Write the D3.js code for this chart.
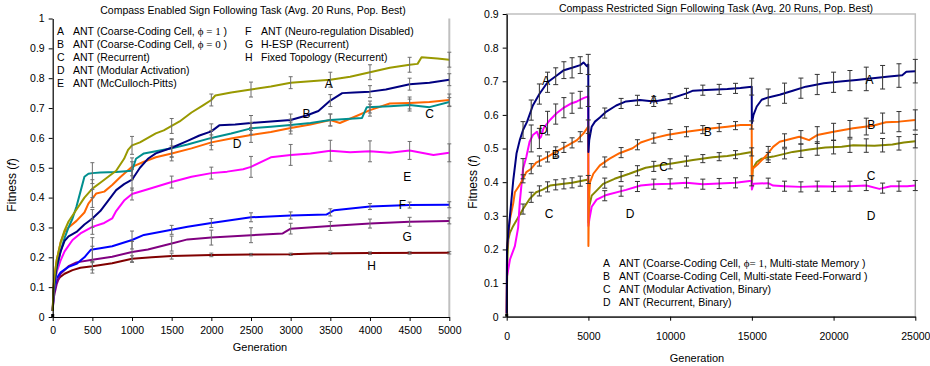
<!DOCTYPE html>
<html>
<head>
<meta charset="utf-8">
<script src="https://cdn.jsdelivr.net/npm/d3@7"></script>
<style>
  body { margin: 0; background: #fff; }
  svg { font-family: "Liberation Sans", Arial, sans-serif; }
</style>
</head>
<body>
<div id="chart"></div>
<script>
// ---- left panel: compass enabled (generation, fitness) ----
const leftA = [[0,0.02],[10,0.1],[25,0.14],[50,0.19],[100,0.25],[150,0.29],[200,0.32],[250,0.34],[300,0.36],[400,0.4],[500,0.43],[600,0.45],[700,0.47],[800,0.49],[900,0.53],[950,0.56],[1000,0.575],[1100,0.585],[1200,0.6],[1300,0.615],[1400,0.625],[1500,0.64],[1600,0.655],[1750,0.685],[1900,0.71],[2000,0.727],[2050,0.742],[2250,0.752],[2500,0.762],[2750,0.772],[3000,0.785],[3250,0.79],[3500,0.795],[3750,0.805],[4000,0.82],[4250,0.835],[4500,0.845],[4600,0.848],[4650,0.87],[4850,0.866],[5000,0.862]];
const leftB = [[0,0.02],[10,0.09],[25,0.12],[50,0.17],[100,0.22],[150,0.255],[200,0.27],[300,0.285],[400,0.31],[500,0.33],[600,0.355],[700,0.39],[800,0.425],[900,0.445],[1000,0.46],[1100,0.5],[1200,0.53],[1300,0.548],[1500,0.567],[1700,0.59],[1850,0.608],[2000,0.622],[2100,0.642],[2300,0.645],[2500,0.65],[2750,0.655],[3000,0.66],[3200,0.675],[3350,0.69],[3500,0.725],[3650,0.75],[3800,0.752],[4000,0.755],[4200,0.762],[4500,0.78],[4750,0.785],[5000,0.795]];
const leftC = [[0,0.02],[10,0.08],[25,0.11],[50,0.16],[100,0.22],[150,0.265],[200,0.3],[250,0.33],[300,0.37],[350,0.42],[400,0.47],[450,0.48],[500,0.482],[600,0.484],[800,0.486],[1000,0.49],[1050,0.53],[1150,0.548],[1300,0.555],[1500,0.565],[1700,0.578],[2000,0.6],[2250,0.615],[2500,0.632],[2750,0.637],[3000,0.643],[3250,0.65],[3500,0.66],[3900,0.667],[3960,0.703],[4250,0.706],[4500,0.71],[4750,0.703],[5000,0.72]];
const leftD = [[0,0.02],[10,0.1],[25,0.14],[50,0.19],[100,0.25],[150,0.285],[200,0.3],[300,0.322],[400,0.35],[450,0.38],[550,0.414],[650,0.42],[750,0.442],[850,0.468],[1000,0.503],[1150,0.52],[1300,0.535],[1500,0.548],[1750,0.565],[2000,0.585],[2250,0.598],[2500,0.61],[2750,0.62],[3000,0.633],[3250,0.645],[3500,0.66],[3620,0.65],[3800,0.67],[4000,0.693],[4250,0.715],[4500,0.717],[4750,0.72],[5000,0.727]];
const leftE = [[0,0.02],[10,0.08],[25,0.11],[50,0.15],[100,0.19],[150,0.22],[250,0.258],[350,0.28],[500,0.302],[650,0.315],[750,0.33],[800,0.355],[900,0.39],[1000,0.412],[1200,0.428],[1500,0.452],[1750,0.47],[2000,0.482],[2200,0.487],[2400,0.495],[2500,0.503],[2750,0.535],[3000,0.543],[3250,0.548],[3500,0.557],[3750,0.552],[4000,0.555],[4250,0.55],[4500,0.558],[4800,0.543],[5000,0.55]];
const leftF = [[0,0.02],[10,0.07],[25,0.1],[50,0.13],[100,0.15],[200,0.168],[300,0.178],[400,0.2],[480,0.225],[600,0.23],[750,0.237],[1000,0.258],[1150,0.275],[1500,0.292],[1700,0.302],[2000,0.315],[2500,0.334],[3000,0.34],[3450,0.343],[3550,0.358],[4000,0.37],[4500,0.375],[5000,0.376]];
const leftG = [[0,0.02],[10,0.06],[25,0.08],[50,0.11],[100,0.145],[200,0.17],[300,0.183],[500,0.192],[750,0.202],[1000,0.218],[1200,0.226],[1500,0.246],[1700,0.26],[2000,0.266],[2500,0.274],[2900,0.28],[3000,0.296],[3500,0.305],[4000,0.313],[4500,0.319],[5000,0.322]];
const leftH = [[0,0.02],[10,0.07],[25,0.1],[50,0.12],[100,0.135],[150,0.145],[250,0.157],[350,0.165],[500,0.17],[750,0.18],[1000,0.195],[1250,0.2],[1500,0.204],[2000,0.208],[2500,0.209],[3000,0.21],[3300,0.213],[4000,0.214],[5000,0.215]];

const leftErrGens = [500,1000,1500,2000,2500,3000,3500,4000,4500,5000];
const leftErrA = [0.03,0.03,0.025,0.02,0.025,0.02,0.025,0.025,0.025,0.025];
const leftErrB = [0.03,0.035,0.03,0.025,0.025,0.02,0.02,0.02,0.02,0.02];
const leftErrC = [0.035,0.03,0.03,0.025,0.02,0.02,0.02,0.02,0.02,0.015];
const leftErrD = [0.03,0.03,0.025,0.025,0.025,0.02,0.02,0.02,0.02,0.02];
const leftErrE = [0.025,0.02,0.02,0.02,0.035,0.035,0.035,0.035,0.03,0.03];
const leftErrF = [0.04,0.03,0.015,0.015,0.015,0.012,0.012,0.01,0.01,0.01];
const leftErrG = [0.045,0.035,0.025,0.025,0.025,0.018,0.015,0.015,0.015,0.01];
const leftErrH = [0.012,0.01,0.01,0.006,0.004,0.004,0.004,0.004,0.004,0.004];

const leftLegend = [
  ["A", "ANT (Coarse-Coding Cell, ", "ϕ = 1", " )"],
  ["B", "ANT  (Coarse-Coding Cell, ", "ϕ = 0", " )"],
  ["C", "ANT (Recurrent)", "", ""],
  ["D", "ANT (Modular Activation)", "", ""],
  ["E", "ANT (McCulloch-Pitts)", "", ""],
  ["F", "ANT (Neuro-regulation Disabled)", "", ""],
  ["G", "H-ESP (Recurrent)", "", ""],
  ["H", "Fixed Topology (Recurrent)", "", ""]
];
// curve tags: [letter, generation, fitness]
const leftTags = [["A",3480,0.78],["B",3200,0.68],["C",4750,0.68],["D",2325,0.58],["E",4470,0.47],["F",4410,0.375],["G",4470,0.27],["H",4020,0.17]];

// ---- right panel: compass restricted ----
const rightA = [[0,0.01],[20,0.2],[100,0.25],[200,0.3],[400,0.405],[600,0.485],[800,0.525],[1000,0.555],[1250,0.58],[1600,0.628],[2000,0.662],[2500,0.697],[3000,0.715],[3500,0.733],[4000,0.74],[4500,0.748],[4700,0.756],[4900,0.745],[4990,0.75],[5000,0.49],[5050,0.525],[5200,0.565],[5400,0.58],[5700,0.592],[6100,0.61],[6700,0.628],[7300,0.64],[8150,0.644],[9000,0.64],[10000,0.648],[11000,0.664],[11400,0.672],[12200,0.674],[13500,0.677],[14300,0.68],[14990,0.684],[15000,0.575],[15100,0.6],[15300,0.625],[15600,0.645],[16000,0.652],[16700,0.66],[17500,0.672],[18300,0.684],[19400,0.694],[20400,0.699],[21400,0.704],[22400,0.709],[23400,0.714],[24200,0.718],[24450,0.728],[25000,0.73]];
const rightB = [[0,0.01],[20,0.2],[100,0.24],[200,0.29],[400,0.337],[500,0.37],[700,0.385],[900,0.4],[1200,0.43],[1500,0.44],[1800,0.458],[2500,0.475],[3000,0.49],[3600,0.506],[4300,0.525],[4700,0.545],[4990,0.565],[5000,0.21],[5030,0.35],[5100,0.4],[5300,0.425],[5700,0.45],[6300,0.47],[6900,0.486],[7700,0.501],[8200,0.518],[9000,0.531],[9800,0.54],[11000,0.55],[11800,0.555],[12600,0.56],[13500,0.565],[14300,0.57],[14990,0.57],[15000,0.41],[15050,0.44],[15400,0.455],[15900,0.48],[16300,0.505],[16700,0.52],[17900,0.535],[18500,0.525],[19000,0.54],[20000,0.55],[21200,0.56],[22400,0.568],[23200,0.578],[24000,0.58],[25000,0.585]];
const rightC = [[0,0.01],[20,0.1],[50,0.18],[100,0.23],[200,0.25],[400,0.27],[700,0.295],[1000,0.32],[1400,0.35],[1800,0.37],[2200,0.378],[2650,0.39],[3500,0.395],[4000,0.398],[4700,0.405],[4990,0.408],[5000,0.28],[5060,0.33],[5200,0.36],[5500,0.375],[5900,0.395],[6600,0.41],[7500,0.425],[8500,0.443],[9400,0.45],[10200,0.456],[11400,0.466],[12600,0.474],[13500,0.478],[14300,0.484],[14990,0.49],[15000,0.39],[15050,0.44],[15300,0.46],[15600,0.47],[16300,0.476],[17500,0.49],[18500,0.497],[19500,0.503],[20500,0.505],[21200,0.51],[22500,0.508],[23600,0.512],[24300,0.518],[25000,0.522]];
const rightD = [[0,0.01],[20,0.12],[200,0.17],[500,0.21],[700,0.265],[800,0.34],[1000,0.44],[1200,0.475],[1400,0.52],[1600,0.54],[1850,0.55],[2000,0.53],[2100,0.535],[2250,0.56],[2650,0.585],[3050,0.605],[3450,0.62],[3900,0.633],[4300,0.64],[4700,0.65],[4990,0.655],[5000,0.27],[5060,0.29],[5200,0.327],[5500,0.348],[6100,0.362],[7300,0.377],[8200,0.39],[9000,0.394],[10000,0.395],[11000,0.398],[12000,0.394],[13000,0.396],[14000,0.398],[14990,0.404],[15000,0.378],[15100,0.395],[16000,0.397],[16300,0.39],[17000,0.388],[18000,0.386],[19000,0.388],[20000,0.387],[21000,0.388],[22000,0.39],[22800,0.38],[23500,0.388],[24500,0.388],[25000,0.39]];

const rightErrGens = [1000,1500,2000,2500,3000,3500,4000,4500,4990,6000,7000,8000,9000,10000,11000,12000,13000,14000,14990,16000,17000,18000,19000,20000,21000,22000,23000,24000,25000];
const rightErrA = [0.025,0.03,0.03,0.03,0.025,0.025,0.03,0.025,0.03,0.015,0.015,0.015,0.015,0.015,0.015,0.015,0.015,0.015,0.025,0.025,0.03,0.03,0.03,0.03,0.03,0.035,0.035,0.035,0.035];
const rightErrB = [0.012,0.015,0.015,0.015,0.015,0.015,0.015,0.015,0.02,0.015,0.015,0.015,0.015,0.015,0.015,0.012,0.012,0.012,0.012,0.02,0.02,0.02,0.025,0.025,0.025,0.025,0.03,0.03,0.03];
const rightErrC = [0.015,0.015,0.015,0.015,0.015,0.015,0.015,0.015,0.012,0.015,0.015,0.015,0.015,0.015,0.015,0.012,0.012,0.012,0.012,0.015,0.015,0.02,0.02,0.02,0.02,0.02,0.02,0.02,0.02];
const rightErrD = [0.03,0.04,0.03,0.035,0.03,0.03,0.03,0.025,0.03,0.015,0.015,0.015,0.015,0.015,0.015,0.015,0.015,0.015,0.015,0.015,0.015,0.015,0.015,0.015,0.015,0.015,0.015,0.015,0.015];

const rightLegend = [
  ["A", "ANT (Coarse-Coding Cell, ", "ϕ= 1", ", Multi-state  Memory )"],
  ["B", "ANT (Coarse-Coding Cell, Multi-state Feed-Forward )", "", ""],
  ["C", "ANT (Modular Activation, Binary)", "", ""],
  ["D", "ANT (Recurrent, Binary)", "", ""]
];
const rightTags = [["A",2400,0.7],["A",9000,0.645],["A",22200,0.705],["D",2240,0.555],["B",3000,0.48],["C",2600,0.305],
  ["B",12300,0.55],["C",9600,0.445],["D",7550,0.305],["B",22300,0.57],["C",22300,0.42],["D",22300,0.3]];

const width = 930, height = 366;
const svg = d3.select("#chart").append("svg")
  .attr("width", width).attr("height", height);

function valueAt(series, g) {
  for (let i = 1; i < series.length; i++) {
    if (series[i][0] >= g) {
      const [g0, v0] = series[i - 1], [g1, v1] = series[i];
      return v0 + (v1 - v0) * (g - g0) / (g1 - g0);
    }
  }
  return series[series.length - 1][1];
}

function drawPanel(cfg) {
  const x = d3.scaleLinear().domain([0, cfg.xMax]).range(cfg.xRange);
  const y = d3.scaleLinear().domain([0, cfg.yMax]).range(cfg.yRange);
  const g = svg.append("g");

  if (cfg.frame) {
    g.append("rect")
      .attr("x", cfg.xRange[0]).attr("y", cfg.yRange[1])
      .attr("width", cfg.xRange[1] - cfg.xRange[0])
      .attr("height", cfg.yRange[0] - cfg.yRange[1])
      .attr("fill", "none").attr("stroke", "#c0c0c0").attr("stroke-width", 1.5);
  } else {
    g.append("line")
      .attr("x1", cfg.xRange[1]).attr("x2", cfg.xRange[1])
      .attr("y1", cfg.yRange[1]).attr("y2", cfg.yRange[0])
      .attr("stroke", "#c0c0c0").attr("stroke-width", 2);
  }

  const line = d3.line().x(d => x(d[0])).y(d => y(d[1]));
  cfg.series.forEach(s => {
    g.append("path").datum(s.data)
      .attr("d", line).attr("fill", "none")
      .attr("stroke", s.color).attr("stroke-width", 2)
      .attr("stroke-linejoin", "round");
  });

  // error bars
  cfg.series.forEach(s => {
    cfg.errGens.forEach((gen, i) => {
      const v = valueAt(s.data, gen), e = s.err[i];
      const px = x(gen);
      const eg = g.append("g").attr("stroke", cfg.errColor).attr("stroke-width", 1);
      eg.append("line").attr("x1", px).attr("x2", px).attr("y1", y(v - e)).attr("y2", y(v + e));
      [v - e, v + e].forEach(t => eg.append("line")
        .attr("x1", px - cfg.cap).attr("x2", px + cfg.cap)
        .attr("y1", y(t)).attr("y2", y(t)));
    });
  });

  // origin marker
  g.append("rect").attr("x", x(0) - 1.5).attr("y", y(0) - 3).attr("width", 3).attr("height", 3).attr("fill", "#000");

  // axes
  const yAxis = g.append("g").attr("transform", `translate(${cfg.xRange[0]},0)`)
    .call(d3.axisLeft(y).tickValues(d3.range(0, cfg.yMax + 0.001, 0.1)).tickSize(4).tickSizeOuter(0).tickPadding(4)
      .tickFormat(d3.format("~g")));
  const xAxis = g.append("g").attr("transform", `translate(0,${cfg.yRange[0]})`)
    .call(d3.axisBottom(x).tickValues(d3.range(0, cfg.xMax + 1, cfg.xStep)).tickSize(4).tickSizeOuter(0).tickPadding(cfg.xPad)
      .tickFormat(d3.format("d")));
  [yAxis, xAxis].forEach(a => {
    a.selectAll("text").attr("font-size", "10.5px").attr("fill", "#000").attr("font-family", "Liberation Sans, Arial, sans-serif");
    a.selectAll("line").attr("stroke", "#000");
    a.select(".domain").attr("stroke", "#000").attr("stroke-width", 1.2);
  });

  // titles
  g.append("text").attr("x", cfg.titleX).attr("y", cfg.titleY).attr("text-anchor", "middle")
    .attr("font-size", "10.5px").text(cfg.title);
  g.append("text").attr("x", cfg.genX).attr("y", cfg.genY).attr("text-anchor", "middle")
    .attr("font-size", "11px").text("Generation");
  const yl = g.append("text").attr("transform", `translate(${cfg.fitX},${cfg.fitY}) rotate(-90)`)
    .attr("text-anchor", "middle").attr("font-size", "12px");
  yl.append("tspan").text("Fitness (");
  yl.append("tspan").attr("font-style", "italic").text("f");
  yl.append("tspan").text(")");

  // curve tags
  cfg.tags.forEach(t => {
    g.append("text").attr("x", x(t[1])).attr("y", y(t[2])).attr("text-anchor", "middle")
      .attr("dy", "0.35em").attr("font-size", "12px").text(t[0]);
  });

  // legend
  cfg.legend.forEach((row, i) => {
    const col = cfg.legendCols && i >= cfg.legendCols.split ? 1 : 0;
    const r = col ? i - cfg.legendCols.split : i;
    const lx = col ? cfg.legendCols.x2 : cfg.legendX;
    const ly = cfg.legendY + r * cfg.legendDy;
    g.append("text").attr("x", lx).attr("y", ly).attr("font-size", "10.5px").text(row[0]);
    const t = g.append("text").attr("x", lx + cfg.legendGap).attr("y", ly).attr("font-size", "10.5px");
    t.append("tspan").text(row[1]);
    if (row[2]) {
      t.append("tspan").attr("font-family", "Liberation Serif, serif").attr("font-size", "11px").text(row[2]);
      t.append("tspan").text(row[3]);
    }
  });
}

drawPanel({
  xMax: 5000, yMax: 1, xRange: [52.7, 449.3], yRange: [317, 18.5], xStep: 500, xPad: 6,
  frame: false, errColor: "#6e6e6e", cap: 2,
  errGens: leftErrGens,
  series: [
    {data: leftH, color: "#800000", err: leftErrH},
    {data: leftG, color: "#800080", err: leftErrG},
    {data: leftF, color: "#0000ff", err: leftErrF},
    {data: leftE, color: "#ff00ff", err: leftErrE},
    {data: leftD, color: "#ff6600", err: leftErrD},
    {data: leftC, color: "#008f8f", err: leftErrC},
    {data: leftB, color: "#000080", err: leftErrB},
    {data: leftA, color: "#999900", err: leftErrA}
  ],
  title: "Compass Enabled Sign Following Task (Avg. 20 Runs, Pop. Best)", titleX: 253, titleY: 14,
  genX: 260, genY: 351, fitX: 16, fitY: 185,
  tags: leftTags,
  legend: leftLegend, legendX: 57, legendY: 34.5, legendDy: 13, legendGap: 16,
  legendCols: {split: 5, x2: 245}
});

drawPanel({
  xMax: 25000, yMax: 0.9, xRange: [506.7, 915.3], yRange: [316.7, 14], xStep: 5000, xPad: 12,
  frame: true, errColor: "#333", cap: 2.5,
  errGens: rightErrGens,
  series: [
    {data: rightC, color: "#878700", err: rightErrC},
    {data: rightD, color: "#ff00ff", err: rightErrD},
    {data: rightB, color: "#ff6600", err: rightErrB},
    {data: rightA, color: "#000080", err: rightErrA}
  ],
  title: "Compass Restricted Sign Following Task (Avg. 20 Runs, Pop. Best)", titleX: 716, titleY: 12,
  genX: 697, genY: 362, fitX: 477, fitY: 182,
  tags: rightTags,
  legend: rightLegend, legendX: 603, legendY: 267, legendDy: 13, legendGap: 16
});
</script>
</body>
</html>
